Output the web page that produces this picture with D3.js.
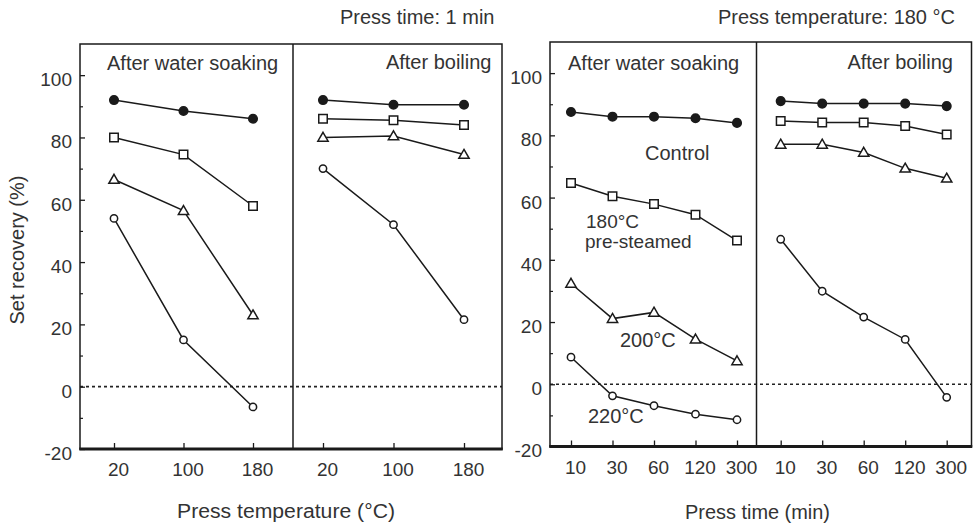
<!DOCTYPE html>
<html><head><meta charset="utf-8">
<script src="https://cdn.jsdelivr.net/npm/d3@7"></script>
<style>
body{margin:0;background:#fff}
svg{display:block;font-family:"Liberation Sans",Arial,Helvetica,sans-serif}
</style></head><body><svg id="c" width="975" height="526"></svg>
<script>
// ---------- data ----------
const tempCategories = ["20", "100", "180"];
const timeCategories = ["10", "30", "60", "120", "300"];
const yTickValues = [-20, 0, 20, 40, 60, 80, 100];
const yMinorTickValues = [-10, 10, 30, 50, 70, 90];
const seriesNames = ["Control", "180°C pre-steamed", "200°C", "220°C"];

// Press time 1 min, x = press temperature
const tempWaterControl = [92, 88.5, 86];
const tempWater180 = [80, 74.5, 58];
const tempWater200 = [66.5, 56.5, 23];
const tempWater220 = [54, 15, -6.5];
const tempBoilControl = [92, 90.5, 90.5];
const tempBoil180 = [86, 85.5, 84];
const tempBoil200 = [80, 80.5, 74.5];
const tempBoil220 = [70, 52, 21.5];

// Press temperature 180 °C, x = press time
const timeWaterControl = [87.5, 86, 86, 85.5, 84];
const timeWater180 = [64.7, 60.4, 57.9, 54.5, 46.2];
const timeWater200 = [32.4, 21.1, 23.1, 14.5, 7.5];
const timeWater220 = [8.7, -3.7, -6.9, -9.6, -11.4];
const timeBoilControl = [91, 90.2, 90.2, 90.2, 89.4];
const timeBoil180 = [84.6, 84.1, 84.1, 83, 80.3];
const timeBoil200 = [77.1, 77.1, 74.5, 69.4, 66.2];
const timeBoil220 = [46.6, 29.9, 21.6, 14.4, -4.2];

const chartTitles = ["Press time: 1 min", "Press temperature: 180 °C"];
const panelTitles = ["After water soaking", "After boiling"];
const xAxisTitles = ["Press temperature (°C)", "Press time (min)"];
const yAxisTitle = "Set recovery (%)";
const curveLabels = ["Control", "180°C", "pre-steamed", "200°C", "220°C"];

// ---------- drawing ----------
const svg = d3.select("#c");
const INK = "#1a1a1a", TXT = "#333";

const markerStyles = [
  {type: d3.symbolCircle, size: 58, fill: INK},
  {type: d3.symbolSquare, size: 72, fill: "#fff"},
  {type: d3.symbolTriangle, size: 46, fill: "#fff"},
  {type: d3.symbolCircle, size: 42, fill: "#fff"}
];

function drawChart(cfg) {
  const g = svg.append("g");
  const y = d3.scaleLinear().domain([-20, 110]).range([cfg.bottom, cfg.top]);

  // zero dashed line
  g.append("line").attr("x1", cfg.x0).attr("x2", cfg.x1)
    .attr("y1", y(0)).attr("y2", y(0))
    .attr("stroke", "#222").attr("stroke-width", 1.7).attr("stroke-dasharray", "3,3");

  cfg.panels.forEach((p, pi) => {
    const x = d3.scalePoint().domain(p.cats).range(p.range);
    const line = d3.line().x((d, i) => x(p.cats[i])).y(d => y(d));
    p.series.forEach((vals, si) => {
      g.append("path").datum(vals).attr("d", line)
        .attr("fill", "none").attr("stroke", INK).attr("stroke-width", 1.5);
    });
    p.series.forEach((vals, si) => {
      const ms = markerStyles[si];
      g.selectAll(null).data(vals).enter().append("path")
        .attr("d", d3.symbol().type(ms.type).size(ms.size))
        .attr("transform", (d, i) => `translate(${x(p.cats[i])},${y(d) + (ms.type === d3.symbolTriangle ? 0.8 : 0)})`)
        .attr("fill", ms.fill).attr("stroke", INK).attr("stroke-width", 1.5);
    });
    // x axis
    const ax = g.append("g").attr("transform", `translate(0,${cfg.bottom})`)
      .call(d3.axisBottom(x).tickSizeInner(-6).tickSizeOuter(0).tickPadding(14));
    ax.select(".domain").remove();
    ax.selectAll("line").attr("stroke", INK).attr("stroke-width", 1.3);
    ax.selectAll("text").attr("font-size", 19).attr("fill", TXT)
      .attr("font-family", null).attr("dx", 4);
    // panel title
    const t = g.append("text").text(panelTitles[pi]).attr("font-size", 20).attr("fill", TXT)
      .attr("y", p.titleY);
    if (pi === 0) t.attr("x", p.titleX).attr("text-anchor", "start");
    else t.attr("x", p.titleX).attr("text-anchor", "end");
  });

  // y axis
  const ay = g.append("g").attr("transform", `translate(${cfg.x0},0)`)
    .call(d3.axisLeft(y).tickValues(yTickValues).tickFormat(d => String(d))
      .tickSizeInner(-5).tickSizeOuter(0).tickPadding(8));
  ay.select(".domain").remove();
  ay.selectAll("line").attr("stroke", INK).attr("stroke-width", 1.3);
  ay.selectAll("text").attr("font-size", 19).attr("fill", TXT).attr("font-family", null).attr("dy", "0.55em");
  const am = g.append("g").attr("transform", `translate(${cfg.x0},0)`)
    .call(d3.axisLeft(y).tickValues(yMinorTickValues).tickSizeInner(-3).tickSizeOuter(0).tickFormat(""));
  am.select(".domain").remove();
  am.selectAll("line").attr("stroke", INK).attr("stroke-width", 1.2);

  // frame
  g.append("rect").attr("x", cfg.x0).attr("y", cfg.top)
    .attr("width", cfg.x1 - cfg.x0).attr("height", cfg.bottom - cfg.top)
    .attr("fill", "none").attr("stroke", INK).attr("stroke-width", 1.5);
  g.append("line").attr("x1", cfg.xd).attr("x2", cfg.xd).attr("y1", cfg.top).attr("y2", cfg.bottom)
    .attr("stroke", INK).attr("stroke-width", 1.5);
  g.append("line").attr("x1", cfg.x0 - 0.75).attr("x2", cfg.x1 + 0.75)
    .attr("y1", cfg.bottom).attr("y2", cfg.bottom)
    .attr("stroke", INK).attr("stroke-width", 2.8);

  // chart title & axis title
  g.append("text").text(cfg.title).attr("font-size", 20).attr("fill", TXT)
    .attr("x", cfg.titleX).attr("y", 24).attr("text-anchor", "start");
  g.append("text").text(cfg.xTitle).attr("font-size", 20).attr("fill", TXT)
    .attr("x", cfg.xTitleX).attr("y", cfg.xTitleY).attr("text-anchor", "middle")
    .attr("textLength", cfg.xTitleLen).attr("lengthAdjust", "spacingAndGlyphs");
  return {g, y};
}

drawChart({
  x0: 80, xd: 293, x1: 502, top: 44, bottom: 449,
  title: chartTitles[0], titleX: 340,
  xTitle: xAxisTitles[0], xTitleX: 286, xTitleY: 518, xTitleLen: 218,
  panels: [
    {cats: tempCategories, range: [114, 253], titleX: 107, titleY: 69.5,
     series: [tempWaterControl, tempWater180, tempWater200, tempWater220]},
    {cats: tempCategories, range: [323, 464], titleX: 491.5, titleY: 68.5,
     series: [tempBoilControl, tempBoil180, tempBoil200, tempBoil220]}
  ]
});

const right = drawChart({
  x0: 550, xd: 756.5, x1: 971.5, top: 42, bottom: 446.5,
  title: chartTitles[1], titleX: 718,
  xTitle: xAxisTitles[1], xTitleX: 757.5, xTitleY: 519, xTitleLen: 145,
  panels: [
    {cats: timeCategories, range: [571, 737], titleX: 568, titleY: 70,
     series: [timeWaterControl, timeWater180, timeWater200, timeWater220]},
    {cats: timeCategories, range: [780.7, 946.7], titleX: 953, titleY: 68.5,
     series: [timeBoilControl, timeBoil180, timeBoil200, timeBoil220]}
  ]
});

// curve labels in the right chart
const labelPos = [[645, 159.5], [586, 228], [585, 248], [620, 347], [588, 423]];
const labelSize = [20, 19, 19, 20, 20];
right.g.selectAll(null).data(curveLabels).enter().append("text")
  .text(d => d).attr("font-size", (d, i) => labelSize[i]).attr("fill", TXT)
  .attr("x", (d, i) => labelPos[i][0]).attr("y", (d, i) => labelPos[i][1]);

// y axis title
svg.append("text").text(yAxisTitle).attr("font-size", 20).attr("fill", TXT)
  .attr("text-anchor", "middle")
  .attr("transform", "translate(24,250) rotate(-90)");
</script></body></html>
